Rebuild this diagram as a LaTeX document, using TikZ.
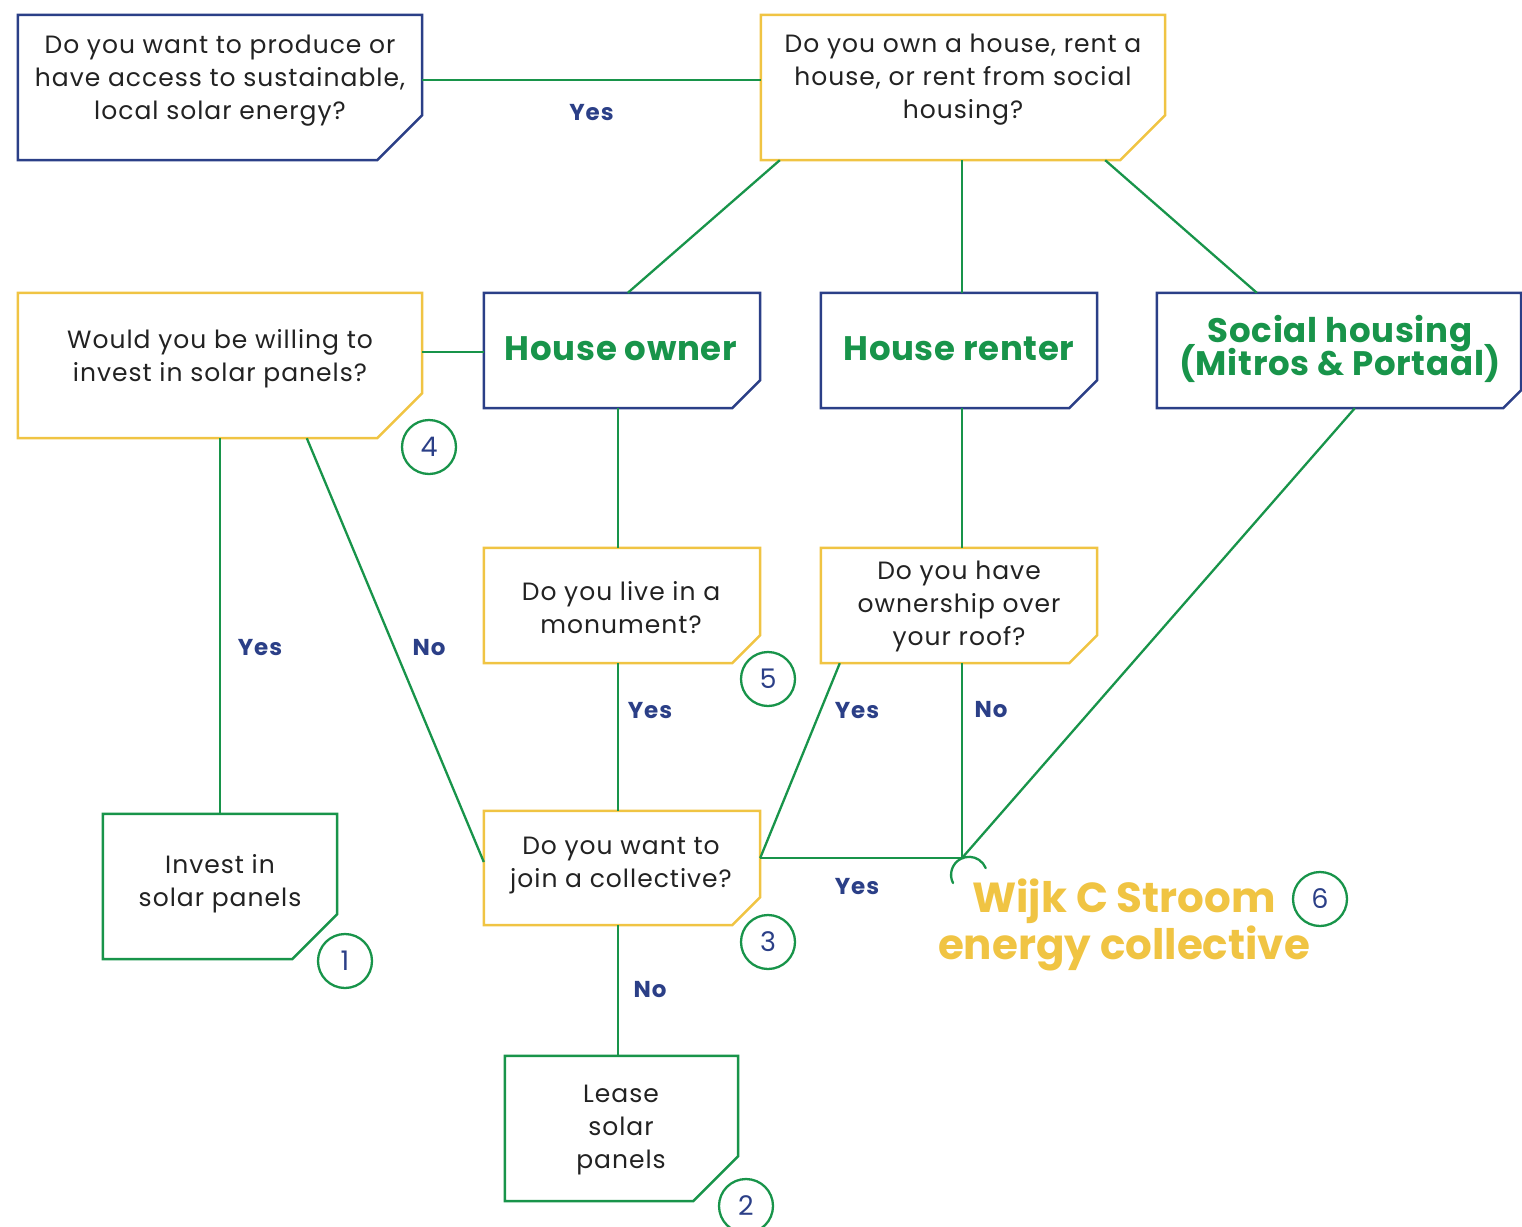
\documentclass[tikz,border=0pt]{standalone}
\usepackage{fontspec}
\setmainfont{Poppins}
\newfontfamily\bodyfont[LetterSpace=4]{Poppins}
\newfontfamily\headfont[LetterSpace=2]{Poppins}
\newfontfamily\lblfont[LetterSpace=4]{Poppins}
\newcommand\hfsetup{\headfont\fontsize{34}{33}\selectfont\bfseries\lineskiplimit=-50pt\relax}
\definecolor{navy}{HTML}{2B3F87}
\definecolor{grn}{HTML}{18944A}
\definecolor{ylw}{HTML}{F0C443}
\definecolor{txt}{HTML}{222222}
\tikzset{
  x=1pt,y=1pt,
  boxline/.style={line width=2.5pt, line join=miter},
  conn/.style={draw=grn, line width=2.3pt},
  qtext/.style={align=center, text=txt, font=\bodyfont\fontsize{25}{33}\selectfont, inner sep=0},
  htext/.style={align=center, text=grn, font=\hfsetup, inner sep=0},
  lbl/.style={text=navy, font=\lblfont\fontsize{23}{24}\selectfont\bfseries, inner sep=0},
  num/.style={circle, draw=grn, line width=2.3pt, minimum size=54pt, inner sep=0, text=navy, font=\fontsize{27}{27}\selectfont},
}
\newcommand\cbox[7]{%
  \node[draw=none, inner sep=0, minimum width={(#4-#2)*1pt}, minimum height={(#5-#3)*1pt}] (#1) at ({(#2+#4)/2},{-(#3+#5)/2}) {};
  \draw[boxline, draw=#7] (#1.north west) -- (#1.north east) -- ([yshift=#6pt]#1.south east) -- ([xshift=-#6pt]#1.south east) -- (#1.south west) -- cycle;
}
\begin{document}
\begin{tikzpicture}
\useasboundingbox (0,0) rectangle (1522,-1226);
% boxes
\cbox{A}{18}{15}{422}{160}{45}{navy}
\cbox{B}{761}{15}{1165}{160}{45}{ylw}
\cbox{W}{18}{293}{422}{438}{45}{ylw}
\cbox{HO}{484}{293}{760}{408}{28}{navy}
\cbox{HR}{821}{293}{1097}{408}{28}{navy}
\cbox{SH}{1157}{293}{1521}{408}{18}{navy}
\cbox{M}{484}{548}{760}{663}{28}{ylw}
\cbox{R}{821}{548}{1097}{663}{28}{ylw}
\cbox{C}{484}{811}{760}{925}{28}{ylw}
\cbox{I}{103}{814}{337}{959}{45}{grn}
\cbox{L}{505}{1056}{738}{1201}{45}{grn}
% texts
\node[qtext] (At) at (220,-81) {Do you want to produce or\\have access to sustainable,\\local solar energy?};
\node[qtext] (Bt) at (963,-80) {Do you own a house, rent a\\house, or rent from social\\housing?};
\node[qtext] (Wt) at (220,-359) {Would you be willing to\\invest in solar panels?};
\node[htext] (HOt) at (621,-349) {House owner};
\node[htext] (HRt) at (959,-349) {House renter};
\node[htext] (SHt) at (1340,-349) {Social housing\\(Mitros \& Portaal)};
\node[qtext] (Mt) at (621,-608) {Do you live in a\\monument?};
\node[qtext] (Rt) at (959,-606) {Do you have\\ownership over\\your roof?};
\node[qtext] (Ct) at (621,-866) {Do you want to\\join a collective?};
\node[qtext] (It) at (220,-884) {Invest in\\solar panels};
\node[qtext] (Lt) at (621,-1130) {Lease\\solar\\panels};
\node[align=center, text=ylw, font=\fontsize{42}{47}\selectfont\bfseries, inner sep=0] (WC) at (1124,-925) {Wijk C Stroom\\energy collective};
% numbers
\node[num] (n4) at (429,-447) {4};
\node[num] (n5) at (768,-679) {5};
\node[num] (n3) at (768,-942) {3};
\node[num] (n1) at (345,-961) {1};
\node[num] (n2) at (746,-1206) {2};
\node[num] (n6) at (1320,-899) {6};
% junction
\coordinate (J) at (962,-858);
% connectors
\draw[conn] (A.east |- 0,-80) -- (B.west |- 0,-80) node[lbl, midway, below=23pt] (y1) {Yes};
\draw[conn] ([xshift=19pt]B.south west) -- ([xshift=144pt]HO.north west);
\draw[conn] (B.south -| J) -- (HR.north -| J);
\draw[conn] ([xshift=-60pt]B.south east) -- ([xshift=100pt]SH.north west);
\draw[conn] (W.east |- 0,-352) -- (HO.west |- 0,-352);
\draw[conn] (W.south -| I.north) -- (I.north);
\node[lbl] (y2) at (260,-648) {Yes};
\draw[conn] ([xshift=289pt]W.south west) -- (C.west |- 0,-862);
\node[lbl] (no1) at (429,-648) {No};
\draw[conn] (HO.south -| 618,0) -- (M.north -| 618,0);
\draw[conn] (M.south -| 618,0) -- (C.north -| 618,0);
\node[lbl] (y3) at (650,-711) {Yes};
\draw[conn] (HR.south -| J) -- (R.north -| J);
\draw[conn] ([xshift=19pt]R.south west) -- (C.east |- J);
\node[lbl] (y4) at (857,-711) {Yes};
\draw[conn] (R.south -| J) -- (J);
\node[lbl] (no2) at (991,-710) {No};
\draw[conn] (C.east |- J) -- (J);
\node[lbl] (y5) at (857,-887) {Yes};
\draw[conn] ([xshift=198pt]SH.south west) -- (J);
\draw[conn] (C.south -| 618,0) -- (L.north -| 618,0);
\node[lbl] (no3) at (650,-990) {No};
\draw[conn, line cap=round] (J) ++(-9,-25) arc[start angle=207, end angle=22, radius=18];
\end{tikzpicture}
\end{document}
